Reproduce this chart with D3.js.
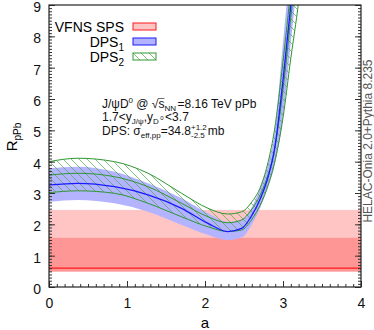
<!DOCTYPE html>
<html>
<head>
    <script src="https://d3js.org/d3.v7.min.js"></script>
    <style>
        body { margin: 0; background: #fff; }
        text { font-family: "Liberation Sans", Arial, sans-serif; }
        .axis path { display: none; }
        .axis line { stroke: #333; }
        .note { white-space: pre; fill: #111; }
    </style>
</head>
<body>
    <div id="chart"></div>
    <script>
        const aValues = [0, 0.37, 0.84, 1.27, 1.70, 2.04, 2.29, 2.47, 2.59, 2.72, 2.81, 2.89, 3.0, 3.1, 3.2, 3.3];

        const dps1Central = [3.26, 3.31, 3.20, 2.94, 2.51, 2.03, 1.77, 1.87, 2.24, 2.88, 3.52, 4.37, 6.6, 9.0, 11.5, 14];
        const dps1Upper   = [3.79, 3.84, 3.68, 3.31, 2.83, 2.35, 2.08, 2.15, 2.50, 3.25, 3.95, 4.9, 7.8, 10.5, 13.5, 16];
        const dps1Lower   = [2.72, 2.78, 2.67, 2.40, 1.98, 1.66, 1.50, 1.58, 1.95, 2.60, 3.20, 3.85, 5.4, 7.8, 10.2, 13];

        const dps2Central = [3.57, 3.63, 3.52, 3.20, 2.67, 2.24, 2.05, 2.14, 2.45, 3.00, 3.60, 4.37, 6.3, 8.6, 11, 13.5];
        const dps2Upper   = [4.00, 4.11, 4.00, 3.63, 2.99, 2.51, 2.33, 2.40, 2.68, 3.25, 4.00, 5.0, 7.2, 9.5, 12, 15];
        const dps2Lower   = [3.01, 3.07, 2.99, 2.67, 2.24, 1.92, 1.77, 1.82, 2.12, 2.68, 3.25, 3.95, 5.4, 7.3, 9.1, 11.5];

        // SPS is flat in a
        const spsA = [0, 4];
        const spsCentral = [0.60, 0.60];
        const spsBandA = [0.49, 2.46];   // [low, high]
        const spsBandB = [0.49, 1.57];

        const xTicks = [0, 1, 2, 3, 4];
        const yTicks = [0, 1, 2, 3, 4, 5, 6, 7, 8, 9];

        const width = 374, height = 330;
        const mLeft = 49, mRight = 361, mTop = 5, mBottom = 287;

        const svg = d3.select("#chart").append("svg")
            .attr("width", width)
            .attr("height", height);

        const x = d3.scaleLinear().domain([0, 4]).range([mLeft, mRight]);
        const y = d3.scaleLinear().domain([0, 9]).range([mBottom, mTop]);

        const defs = svg.append("defs");
        defs.append("clipPath").attr("id", "clip")
            .append("rect")
            .attr("x", mLeft).attr("y", mTop)
            .attr("width", mRight - mLeft).attr("height", mBottom - mTop);

        const hatch = defs.append("pattern")
            .attr("id", "hatch")
            .attr("patternUnits", "userSpaceOnUse")
            .attr("width", 8).attr("height", 8);
        hatch.append("path")
            .attr("d", "M0,0 L8,8 M-2,6 L2,10 M6,-2 L10,2")
            .attr("stroke", "#4ea64e")
            .attr("stroke-width", 0.7);

        const plot = svg.append("g").attr("clip-path", "url(#clip)");

        // SPS bands
        [spsBandA, spsBandB].forEach(b => {
            plot.append("rect")
                .attr("x", x(spsA[0]))
                .attr("width", x(spsA[1]) - x(spsA[0]))
                .attr("y", y(b[1]))
                .attr("height", y(b[0]) - y(b[1]))
                .attr("fill", "#ff0000")
                .attr("fill-opacity", 0.23);
        });

        const pts = (lo, hi) => aValues.map((a, i) => ({ a: a, lo: lo[i], hi: hi ? hi[i] : null }));

        const band = d3.area()
            .x(d => x(d.a))
            .y0(d => y(d.lo))
            .y1(d => y(d.hi))
            .curve(d3.curveMonotoneX);

        const line = d3.line()
            .x(d => x(d.a))
            .y(d => y(d.lo))
            .curve(d3.curveMonotoneX);

        plot.append("path")
            .datum(pts(dps1Lower, dps1Upper))
            .attr("d", band)
            .attr("fill", "#b3b3ff");

        plot.append("path")
            .datum(pts(dps2Lower, dps2Upper))
            .attr("d", band)
            .attr("fill", "url(#hatch)");

        plot.append("path")
            .datum(spsA.map((a, i) => ({ a: a, lo: spsCentral[i] })))
            .attr("d", d3.line().x(d => x(d.a)).y(d => y(d.lo)))
            .attr("fill", "none")
            .attr("stroke", "#ff1a1a")
            .attr("stroke-width", 1.3);

        [dps2Upper, dps2Central, dps2Lower].forEach(s => {
            plot.append("path")
                .datum(pts(s))
                .attr("d", line)
                .attr("fill", "none")
                .attr("stroke", "#2f962f")
                .attr("stroke-width", 1);
        });

        plot.append("path")
            .datum(pts(dps1Central))
            .attr("d", line)
            .attr("fill", "none")
            .attr("stroke", "#1a1aff")
            .attr("stroke-width", 1.3);

        // axes
        const minorX = d3.range(0, 4.001, 0.1);
        const minorY = d3.range(0, 9.001, 0.1);

        svg.append("g").attr("class", "axis")
            .attr("transform", `translate(0,${mBottom})`)
            .call(d3.axisBottom(x).tickValues(minorX).tickSize(-3).tickFormat(""));
        svg.append("g").attr("class", "axis")
            .attr("transform", `translate(0,${mBottom})`)
            .call(d3.axisBottom(x).tickValues(xTicks).tickSize(-6).tickPadding(11).tickFormat(d3.format("d")))
            .selectAll("text").attr("font-size", 14).attr("fill", "#111")
            .attr("font-family", "Liberation Sans");

        svg.append("g").attr("class", "axis")
            .attr("transform", `translate(${mLeft},0)`)
            .call(d3.axisLeft(y).tickValues(minorY).tickSize(-3).tickFormat(""));
        svg.append("g").attr("class", "axis")
            .attr("transform", `translate(${mLeft},0)`)
            .call(d3.axisLeft(y).tickValues(yTicks).tickSize(-6).tickPadding(8).tickFormat(d3.format("d")))
            .selectAll("text").attr("font-size", 14).attr("fill", "#111")
            .attr("dy", "0.47em")
            .attr("font-family", "Liberation Sans");

        svg.append("g").attr("class", "axis")
            .attr("transform", `translate(${mRight},0)`)
            .call(d3.axisRight(y).tickValues(minorY).tickSize(-3).tickFormat(""));
        svg.append("g").attr("class", "axis")
            .attr("transform", `translate(${mRight},0)`)
            .call(d3.axisRight(y).tickValues(yTicks).tickSize(-6).tickFormat(""));

        svg.append("rect")
            .attr("x", mLeft).attr("y", mTop)
            .attr("width", mRight - mLeft).attr("height", mBottom - mTop)
            .attr("fill", "none")
            .attr("stroke", "#222")
            .attr("stroke-width", 1.2);

        // axis titles
        svg.append("text")
            .attr("x", 205).attr("y", 328)
            .attr("text-anchor", "middle")
            .attr("font-size", 15)
            .text("a");

        const ylab = svg.append("text")
            .attr("transform", "translate(17,137) rotate(-90)")
            .attr("text-anchor", "middle")
            .attr("font-size", 15);
        ylab.append("tspan").text("R");
        ylab.append("tspan").attr("font-size", 10).attr("dy", 4).text("pPb");

        svg.append("text")
            .attr("transform", "translate(372,141) rotate(-90)")
            .attr("text-anchor", "middle")
            .attr("font-family", "Liberation Mono")
            .attr("font-size", 12)
            .attr("fill", "#555")
            .text("HELAC-Onia 2.0+Pythia 8.235");

        // legend
        const legend = [
            { name: "VFNS SPS", sub: "", fill: "#ffc4c4", stroke: "#ff1a1a" },
            { name: "DPS", sub: "1", fill: "#b3b3ff", stroke: "#1a1aff" },
            { name: "DPS", sub: "2", fill: "url(#hatch)", stroke: "#2f962f" }
        ];
        legend.forEach((d, i) => {
            const yy = 26.5 + i * 15;
            const t = svg.append("text")
                .attr("x", 124).attr("y", yy + 5)
                .attr("text-anchor", "end")
                .attr("font-size", 14);
            t.append("tspan").text(d.name);
            if (d.sub) t.append("tspan").attr("font-size", 10).attr("dy", 4).text(d.sub);
            svg.append("rect")
                .attr("x", 133).attr("y", yy - 3.5)
                .attr("width", 23).attr("height", 7)
                .attr("fill", d.fill)
                .attr("stroke", d.stroke)
                .attr("stroke-width", 1);
        });

        // annotation, built from runs so the stacked errors can be placed
        function runs(x0, y0, parts) {
            let cx = x0;
            parts.forEach(p => {
                if (p.stack) {
                    let w = 0;
                    p.stack.forEach(s => {
                        const t = svg.append("text").attr("class", "note")
                            .attr("x", cx).attr("y", y0 + s.shift)
                            .attr("font-size", s.size).text(s.t);
                        w = Math.max(w, t.node().getComputedTextLength());
                    });
                    cx += w + 1;
                    return;
                }
                const t = svg.append("text").attr("class", "note")
                    .attr("x", cx).attr("y", y0 + (p.shift || 0))
                    .attr("font-size", p.size || 12).text(p.t);
                const w = t.node().getComputedTextLength();
                if (p.over) {
                    svg.append("line")
                        .attr("x1", cx - 0.5).attr("x2", cx + w)
                        .attr("y1", y0 - 9.5).attr("y2", y0 - 9.5)
                        .attr("stroke", "#111").attr("stroke-width", 0.6);
                }
                cx += w + (p.gap || 0);
            });
        }

        runs(102, 108, [
            { t: "J/ψD" }, { t: "0", size: 8, shift: -5 }, { t: " @ √" },
            { t: "s", over: true }, { t: "NN", size: 8, shift: 3, gap: 1.5 },
            { t: "=8.16 TeV pPb" }
        ]);
        runs(102, 121, [
            { t: "1.7<y" }, { t: "J/ψ", size: 8, shift: 3 }, { t: "," },
            { t: "y" }, { t: "D", size: 8, shift: 3, gap: 1.5 }, { t: "0", size: 6, shift: -1, gap: 1.5 },
            { t: "<3.7" }
        ]);
        runs(102, 135, [
            { t: "DPS: σ" }, { t: "eff,pp", size: 8, shift: 3 }, { t: "=34.8" },
            { stack: [{ t: "+1.2", size: 8, shift: -5 }, { t: "-2.5", size: 8, shift: 3 }] },
            { t: "mb" }
        ]);
    </script>
</body>
</html>
